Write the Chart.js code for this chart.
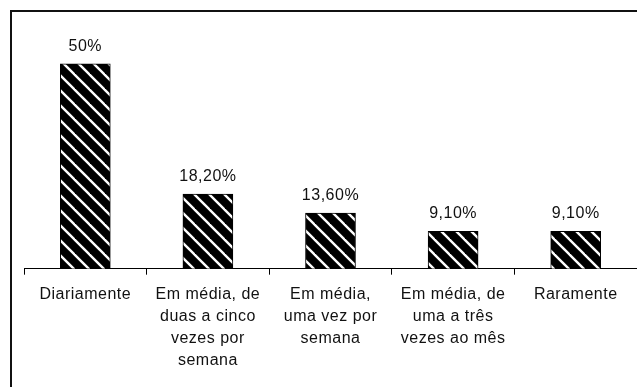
<!DOCTYPE html>
<html>
<head>
<meta charset="utf-8">
<script src="https://cdn.jsdelivr.net/npm/chart.js@4.4.1/dist/chart.umd.min.js"></script>
<style>
  html, body { margin: 0; padding: 0; background: #fff; }
  #wrap { position: relative; width: 637px; height: 387px; overflow: hidden; }
  #frame { position: absolute; left: 10px; top: 10px; width: 700px; height: 500px;
           border-left: 2px solid #111; border-top: 2px solid #111; pointer-events: none; }
</style>
</head>
<body>
<div id="wrap">
  <canvas id="bar-chartcanvas-1" width="637" height="387"></canvas>
  <div id="frame"></div>
</div>
<script>
var categories = [
    "Diariamente",
    ["Em média, de", "duas a cinco", "vezes por", "semana"],
    ["Em média,", "uma vez por", "semana"],
    ["Em média, de", "uma a três", "vezes ao mês"],
    "Raramente"
];
var percentValues = [50, 18.2, 13.6, 9.1, 9.1];
var valueLabels = ["50%", "18,20%", "13,60%", "9,10%", "9,10%"];

// diagonal black/white stripes
function makeHatch() {
    var c = document.createElement("canvas");
    c.width = 15; c.height = 15;
    var g = c.getContext("2d");
    g.fillStyle = "#000";
    g.fillRect(0, 0, 15, 15);
    g.strokeStyle = "#fff";
    g.lineWidth = 2.4;
    for (var k = -1; k <= 1; k++) {
        g.beginPath();
        g.moveTo(k * 15 - 2, -2);
        g.lineTo(k * 15 + 17, 17);
        g.stroke();
    }
    return g.createPattern(c, "repeat");
}

var spacing = {
    id: "spacing",
    beforeUpdate: function (chart) { chart.ctx.letterSpacing = "0.5px"; },
    beforeDraw: function (chart) { chart.ctx.letterSpacing = "0.5px"; }
};

var valueText = {
    id: "valueText",
    afterDatasetsDraw: function (chart) {
        var ctx = chart.ctx;
        var meta = chart.getDatasetMeta(0);
        ctx.save();
        ctx.letterSpacing = "0.5px";
        ctx.font = "16px 'Liberation Sans', Arial, sans-serif";
        ctx.fillStyle = "#111";
        ctx.textAlign = "center";
        ctx.textBaseline = "alphabetic";
        meta.data.forEach(function (bar, i) {
            ctx.fillText(valueLabels[i], bar.x, bar.y - 13);
        });
        ctx.restore();
    }
};

Chart.defaults.font.family = "'Liberation Sans', Arial, sans-serif";
Chart.defaults.font.size = 16;
Chart.defaults.color = "#111";

var ctx1 = document.getElementById("bar-chartcanvas-1");

var data1 = {
    labels: categories,
    datasets: [
        {
            label: "Frequência",
            data: percentValues,
            backgroundColor: makeHatch(),
            borderColor: "#000",
            borderWidth: 1,
            barThickness: 50
        }
    ]
};

var options = {
    responsive: false,
    animation: false,
    layout: { padding: { left: 24, right: 0, top: 23, bottom: 6 } },
    plugins: {
        legend: { display: false },
        tooltip: { enabled: false }
    },
    scales: {
        x: {
            grid: {
                offset: true,
                drawOnChartArea: false,
                drawTicks: true,
                tickLength: 6,
                color: "#000"
            },
            border: { display: true, color: "#000", width: 1 },
            ticks: {
                maxRotation: 0,
                autoSkip: false,
                padding: 9,
                font: { size: 16, lineHeight: 1.38 },
                color: "#111"
            }
        },
        y: {
            display: false,
            min: 0,
            max: 60
        }
    }
};

var chart1 = new Chart(ctx1, {
    type: "bar",
    data: data1,
    options: options,
    plugins: [spacing, valueText]
});
</script>
</body>
</html>
